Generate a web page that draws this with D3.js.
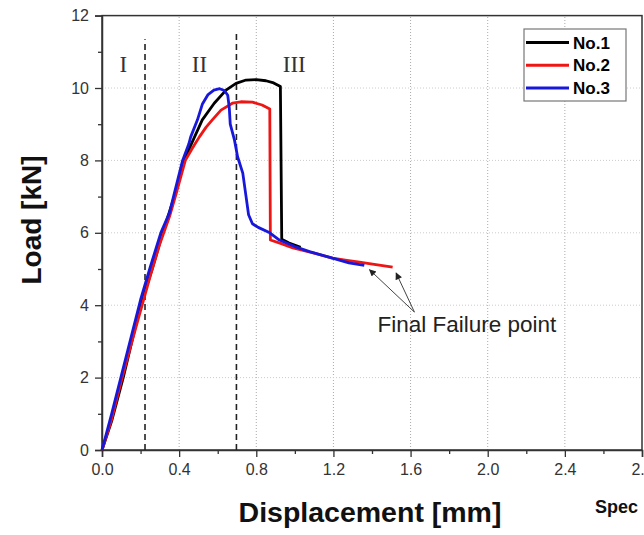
<!DOCTYPE html>
<html>
<head>
<meta charset="utf-8">
<script src="https://cdn.jsdelivr.net/npm/d3@7"></script>
<style>
body { margin: 0; background: #fff; overflow: hidden; }
svg { display: block; font-family: Arial, "Liberation Sans", sans-serif; }
</style>
</head>
<body>
<div></div>
<script>
var width = 644;
var height = 535;
var margin = { top: 15.6, left: 102, right: 2, bottom: 85 };

// load-displacement data, [displacement mm, load kN]
var no1 = [[0, 0], [0.05, 0.8], [0.11, 2.0], [0.2, 4.0], [0.26, 5.0], [0.315, 6.0], [0.38, 7.09],
    [0.425, 8.0], [0.48, 8.65], [0.52, 9.12], [0.582, 9.58], [0.643, 9.94], [0.695, 10.13],
    [0.747, 10.22], [0.8, 10.23], [0.85, 10.2], [0.89, 10.14], [0.925, 10.04], [0.932, 5.82],
    [0.97, 5.72], [1.03, 5.6]];
var no2 = [[0, 0], [0.05, 0.85], [0.1, 1.9], [0.15, 2.9], [0.2, 3.85], [0.25, 4.8], [0.3, 5.7],
    [0.35, 6.45], [0.385, 7.09], [0.432, 8.0], [0.47, 8.35], [0.505, 8.65], [0.54, 8.92],
    [0.572, 9.12], [0.617, 9.39], [0.676, 9.58], [0.72, 9.62], [0.78, 9.61], [0.83, 9.53],
    [0.87, 9.42], [0.873, 5.8], [0.93, 5.7], [0.99, 5.58], [1.1, 5.44], [1.195, 5.3],
    [1.27, 5.24], [1.335, 5.19], [1.42, 5.12], [1.507, 5.05]];
var no3 = [[0, 0], [0.05, 1.0], [0.1, 2.05], [0.15, 3.1], [0.2, 4.15], [0.25, 5.05], [0.305, 6.0],
    [0.35, 6.55], [0.375, 7.09], [0.418, 8.0], [0.45, 8.45], [0.46, 8.65], [0.495, 9.12],
    [0.52, 9.55], [0.55, 9.82], [0.58, 9.94], [0.61, 9.98], [0.635, 9.93], [0.652, 9.8],
    [0.66, 9.45], [0.665, 9.0], [0.687, 8.56], [0.703, 8.1], [0.73, 7.65], [0.747, 7.0],
    [0.76, 6.5], [0.78, 6.25], [0.81, 6.15], [0.87, 6.0], [0.92, 5.8], [1.0, 5.62],
    [1.076, 5.48], [1.195, 5.3], [1.28, 5.17], [1.36, 5.1]];

var seriesNames = ["No.1", "No.2", "No.3"];
var seriesColors = ["#000000", "#ee1515", "#1818dd"];
var seriesData = [no1, no2, no3];

var xTicks = [0, 0.4, 0.8, 1.2, 1.6, 2.0, 2.4, 2.8];
var xMinor = [0.2, 0.6, 1.0, 1.4, 1.8, 2.2, 2.6];
var yTicks = [0, 2, 4, 6, 8, 10, 12];
var yMinor = [1, 3, 5, 7, 9, 11];

// stage boundaries (x, top of line) and stage labels
var stageLines = [[0.223, 11.35], [0.697, 11.52]];
var stageLabels = [["I", 0.11], ["II", 0.505], ["III", 0.997]];

// final failure annotation
var failTips = [[1.387, 4.98], [1.525, 4.89]];
var failFrom = [1.62, 3.81];
var failText = [1.428, 3.27];

var svg = d3.select("div")
    .append("svg")
    .attr("width", width)
    .attr("height", height);

var x = d3.scaleLinear().domain([0, 2.8]).range([margin.left, width - margin.right]);
var y = d3.scaleLinear().domain([0, 12]).range([height - margin.bottom, margin.top]);

// grid
svg.append("g")
    .selectAll("line")
    .data(xTicks.slice(1, -1))
    .enter().append("line")
    .attr("x1", d => x(d)).attr("x2", d => x(d))
    .attr("y1", y(0)).attr("y2", y(12))
    .attr("stroke", "#aaa")
    .attr("stroke-width", 1)
    .attr("stroke-dasharray", "1,2");
svg.append("g")
    .selectAll("line")
    .data(yTicks.slice(1, -1))
    .enter().append("line")
    .attr("x1", x(0)).attr("x2", x(2.8))
    .attr("y1", d => y(d)).attr("y2", d => y(d))
    .attr("stroke", "#ccc")
    .attr("stroke-width", 1)
    .attr("stroke-dasharray", "1,2");

// plot frame
svg.append("rect")
    .attr("x", x(0)).attr("y", y(12))
    .attr("width", x(2.8) - x(0)).attr("height", y(0) - y(12))
    .attr("fill", "none")
    .attr("stroke", "#333")
    .attr("stroke-width", 1.5);

// axes
var xAxis = svg.append("g")
    .attr("transform", "translate(0," + y(0) + ")")
    .call(d3.axisBottom(x).tickValues(xTicks).tickSize(7).tickFormat(d3.format(".1f")));
svg.append("g")
    .attr("transform", "translate(0," + y(0) + ")")
    .call(d3.axisBottom(x).tickValues(xMinor).tickSize(4).tickFormat(""))
    .select(".domain").remove();
var yAxis = svg.append("g")
    .attr("transform", "translate(" + x(0) + ",0)")
    .call(d3.axisLeft(y).tickValues(yTicks).tickSize(7).tickFormat(d3.format("d")));
svg.append("g")
    .attr("transform", "translate(" + x(0) + ",0)")
    .call(d3.axisLeft(y).tickValues(yMinor).tickSize(4).tickFormat(""))
    .select(".domain").remove();

svg.selectAll(".domain").attr("stroke", "#333").attr("stroke-width", 1.5);
svg.selectAll(".tick line").attr("stroke", "#333").attr("stroke-width", 1.3);
svg.selectAll(".tick text")
    .attr("fill", "#333")
    .style("font-size", "16px")
    .style("font-family", "Arial, 'Liberation Sans', sans-serif");
xAxis.selectAll(".tick text").attr("dy", "0.95em").attr("y", 10);
yAxis.selectAll(".tick text").attr("x", -13);

// stage divisions
svg.append("g")
    .selectAll("line")
    .data(stageLines)
    .enter().append("line")
    .attr("x1", d => x(d[0])).attr("x2", d => x(d[0]))
    .attr("y1", y(0)).attr("y2", d => y(d[1]))
    .attr("stroke", "#222")
    .attr("stroke-width", 1.6)
    .attr("stroke-dasharray", "6,4");
svg.append("g")
    .selectAll("text")
    .data(stageLabels)
    .enter().append("text")
    .attr("x", d => x(d[1]))
    .attr("y", y(10.45))
    .attr("text-anchor", "middle")
    .attr("fill", "#333")
    .style("font-family", "'Liberation Serif', 'DejaVu Serif', serif")
    .style("font-size", "23px")
    .text(d => d[0]);

// curves
var line = d3.line().x(d => x(d[0])).y(d => y(d[1]));
svg.append("g")
    .selectAll("path")
    .data(seriesData)
    .enter().append("path")
    .attr("d", line)
    .attr("fill", "none")
    .attr("stroke", (d, i) => seriesColors[i])
    .attr("stroke-width", 2.8)
    .attr("stroke-linejoin", "round");

// annotation
svg.append("defs").append("marker")
    .attr("id", "arr")
    .attr("viewBox", "0 0 10 10")
    .attr("refX", 9).attr("refY", 5)
    .attr("markerWidth", 10).attr("markerHeight", 7)
    .attr("markerUnits", "userSpaceOnUse")
    .attr("orient", "auto")
    .append("path")
    .attr("d", "M0,0L10,5L0,10z")
    .attr("fill", "#222");
svg.append("g")
    .selectAll("line")
    .data(failTips)
    .enter().append("line")
    .attr("x1", x(failFrom[0])).attr("y1", y(failFrom[1]))
    .attr("x2", d => x(d[0])).attr("y2", d => y(d[1]))
    .attr("stroke", "#444")
    .attr("stroke-width", 1)
    .attr("marker-end", "url(#arr)");
svg.append("text")
    .attr("x", x(failText[0]))
    .attr("y", y(failText[1]))
    .attr("fill", "#222")
    .style("font-size", "22.5px")
    .text("Final Failure point");

// legend
var legend = svg.append("g");
legend.append("rect")
    .attr("x", 524).attr("y", 29)
    .attr("width", 102).attr("height", 72)
    .attr("fill", "#fff")
    .attr("stroke", "#777")
    .attr("stroke-width", 1.2);
var rows = legend.selectAll("g")
    .data(seriesNames)
    .enter().append("g")
    .attr("transform", (d, i) => "translate(526," + (42.5 + i * 22.8) + ")");
rows.append("line")
    .attr("x1", 0).attr("x2", 43)
    .attr("stroke", (d, i) => seriesColors[i])
    .attr("stroke-width", 3);
rows.append("text")
    .attr("x", 47)
    .attr("dy", "0.36em")
    .style("font-size", "17px")
    .style("font-weight", "bold")
    .text(d => d);

// axis titles
svg.append("text")
    .attr("x", (x(0) + 640) / 2 - 1)
    .attr("y", 521.5)
    .attr("text-anchor", "middle")
    .style("font-size", "28.5px")
    .style("font-weight", "bold")
    .attr("fill", "#111")
    .text("Displacement [mm]");
svg.append("text")
    .attr("transform", "translate(41,220) rotate(-90)")
    .attr("text-anchor", "middle")
    .style("font-size", "28px")
    .style("font-weight", "bold")
    .attr("fill", "#111")
    .text("Load [kN]");
svg.append("text")
    .attr("x", 595)
    .attr("y", 513)
    .style("font-size", "18px")
    .style("font-weight", "bold")
    .attr("fill", "#111")
    .text("Spec");
</script>
</body>
</html>
